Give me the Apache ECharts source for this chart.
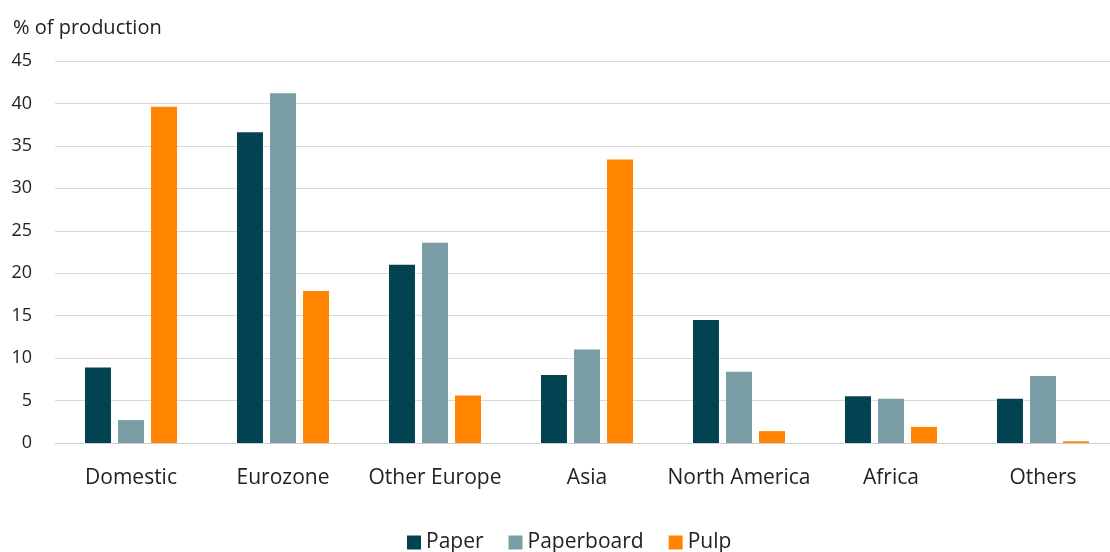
<!DOCTYPE html>
<html><head><meta charset="utf-8">
<script src="https://cdn.jsdelivr.net/npm/echarts@6/dist/echarts.min.js"></script>
<style>html,body{margin:0;padding:0;background:#fff;overflow:hidden}#c{width:1110px;height:552px}</style>
</head><body><div id="c"></div>
<script>
const categories = ['Domestic','Eurozone','Other Europe','Asia','North America','Africa','Others'];
const paper = [8.9, 36.6, 21.0, 8.0, 14.5, 5.5, 5.2];
const paperboard = [2.7, 41.2, 23.6, 11.0, 8.4, 5.2, 7.9];
const pulp = [39.6, 17.9, 5.6, 33.4, 1.4, 1.9, 0.2];
const yTicks = {min: 0, max: 45, interval: 5};

const font = '"Open Sans", "Noto Sans", sans-serif';
const chart = echarts.init(document.getElementById('c'));
const mk = (name, data, color) => ({
  name, type: 'bar', data, barWidth: 26, barGap: '27%',
  itemStyle: {color},
  emphasis: {disabled: true}
});
chart.setOption({
  animation: false,
  textStyle: {fontFamily: font},
  title: {text: '% of production', left: 8, top: 13,
    textStyle: {fontSize: 20, fontWeight: 'normal', color: '#222', fontFamily: font}},
  legend: {bottom: -6, left: 402, itemWidth: 14, itemHeight: 14, itemGap: 25,
    icon: 'rect', textStyle: {fontSize: 21, color: '#222', fontFamily: font},
    data: ['Paper','Paperboard','Pulp']},
  grid: {left: 55, width: 1064, top: 61, bottom: 109, containLabel: false, outerBoundsMode: 'none'},
  xAxis: {type: 'category', data: categories,
    axisLine: {lineStyle: {color: '#d0d0d0', width: 1}}, axisTick: {show: false},
    axisLabel: {fontSize: 21, color: '#222', margin: 25, interval: 0, fontFamily: font}},
  yAxis: {type: 'value', min: yTicks.min, max: yTicks.max, interval: yTicks.interval,
    axisLine: {show: false}, axisTick: {show: false},
    splitLine: {lineStyle: {color: '#d9d9d9', width: 1}},
    axisLabel: {fontSize: 18, color: '#222', margin: 23, fontFamily: font}},
  series: [mk('Paper', paper, '#024251'), mk('Paperboard', paperboard, '#7B9DA6'), mk('Pulp', pulp, '#FF8500')]
});
</script></body></html>
